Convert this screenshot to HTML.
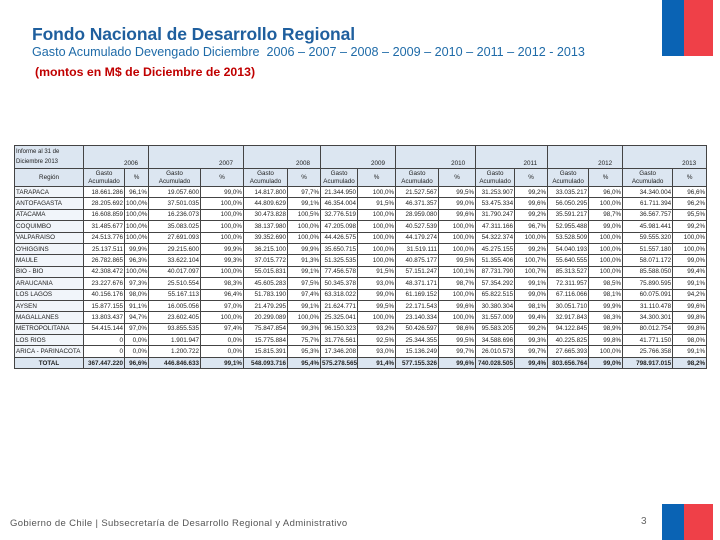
<!DOCTYPE html>
<html><head><meta charset="utf-8">
<style>
body{margin:0;width:720px;height:540px;background:#fff;position:relative;overflow:hidden;font-family:"Liberation Sans",sans-serif;}
.bar{position:absolute}
#title{position:absolute;left:32px;top:24px;font-size:17.5px;font-weight:bold;color:#1f5f9e;letter-spacing:-0.1px}
#sub{position:absolute;left:32px;top:45px;font-size:12.6px;color:#1f6ba8}
#sub2{position:absolute;left:35px;top:65px;font-size:12.3px;font-weight:bold;color:#c00000}
#tbl{position:absolute;left:14px;top:145px;width:692px;border-collapse:collapse;table-layout:fixed;font-family:"Liberation Sans Narrow","Liberation Sans",sans-serif;font-size:6.3px;color:#222}
#tbl td{border:1px solid #444;padding:0 1px;height:10.4px;line-height:9px;white-space:nowrap;overflow:hidden;text-align:right}
#tbl td.r{text-align:left;background:#f1f5fa}
#tbl .h td{background:#dce6f1;text-align:center;font-size:6.3px}
#tbl tr.tot td{background:#dce6f1;font-weight:bold}
#foot{position:absolute;left:10px;top:518px;font-size:9.5px;color:#555;letter-spacing:0.35px}
#pg{position:absolute;left:641px;top:516px;font-size:10px;color:#666}
</style></head><body>
<div class="bar" style="left:662px;top:0;width:22px;height:56px;background:#0a63b4"></div>
<div class="bar" style="left:684px;top:0;width:29px;height:56px;background:#ef4048"></div>
<div class="bar" style="left:662px;top:504px;width:22px;height:36px;background:#0a63b4"></div>
<div class="bar" style="left:684px;top:504px;width:29px;height:36px;background:#ef4048"></div>
<div id="title">Fondo Nacional de Desarrollo Regional</div>
<div id="sub">Gasto Acumulado Devengado Diciembre&nbsp; 2006 – 2007 – 2008 – 2009 – 2010 – 2011 – 2012 - 2013</div>
<div id="sub2">(montos en M$ de Diciembre de 2013)</div>
<table id="tbl">
<colgroup><col style="width:69px"><col style="width:41px"><col style="width:24px"><col style="width:52px"><col style="width:43px"><col style="width:44px"><col style="width:33px"><col style="width:37px"><col style="width:38px"><col style="width:43px"><col style="width:37px"><col style="width:39px"><col style="width:33px"><col style="width:41px"><col style="width:34px"><col style="width:50px"><col style="width:34px"></colgroup>
<tbody id="tb"></tbody></table>
<div id="foot">Gobierno de Chile | Subsecretaría de Desarrollo Regional y Administrativo</div>
<div id="pg">3</div>
<script>
const years=["2006","2007","2008","2009","2010","2011","2012","2013"];
const regions=["TARAPACA","ANTOFAGASTA","ATACAMA","COQUIMBO","VALPARAISO","O'HIGGINS","MAULE","BIO - BIO","ARAUCANIA","LOS LAGOS","AYSEN","MAGALLANES","METROPOLITANA","LOS RIOS","ARICA - PARINACOTA","TOTAL"];
const rows=[
["18.661.286","96,1%","19.057.600","99,0%","14.817.800","97,7%","21.344.950","100,0%","21.527.567","99,5%","31.253.907","99,2%","33.035.217","96,0%","34.340.004","96,6%"],
["28.205.692","100,0%","37.501.035","100,0%","44.809.629","99,1%","46.354.004","91,5%","46.371.357","99,0%","53.475.334","99,6%","56.050.295","100,0%","61.711.394","96,2%"],
["16.608.859","100,0%","16.236.073","100,0%","30.473.828","100,5%","32.776.519","100,0%","28.959.080","99,6%","31.790.247","99,2%","35.591.217","98,7%","36.567.757","95,5%"],
["31.485.677","100,0%","35.083.025","100,0%","38.137.980","100,0%","47.205.098","100,0%","40.527.539","100,0%","47.311.166","96,7%","52.955.488","99,0%","45.981.441","99,2%"],
["24.513.776","100,0%","27.691.093","100,0%","39.352.690","100,0%","44.426.575","100,0%","44.179.274","100,0%","54.322.374","100,0%","53.528.509","100,0%","59.555.320","100,0%"],
["25.137.511","99,9%","29.215.600","99,9%","36.215.100","99,9%","35.650.715","100,0%","31.519.111","100,0%","45.275.155","99,2%","54.040.193","100,0%","51.557.180","100,0%"],
["26.782.865","96,3%","33.622.104","99,3%","37.015.772","91,3%","51.325.535","100,0%","40.875.177","99,5%","51.355.406","100,7%","55.640.555","100,0%","58.071.172","99,0%"],
["42.308.472","100,0%","40.017.097","100,0%","55.015.831","99,1%","77.456.578","91,5%","57.151.247","100,1%","87.731.790","100,7%","85.313.527","100,0%","85.588.050","99,4%"],
["23.227.676","97,3%","25.510.554","98,3%","45.605.283","97,5%","50.345.378","93,0%","48.371.171","98,7%","57.354.292","99,1%","72.311.957","98,5%","75.890.595","99,1%"],
["40.156.176","98,0%","55.167.113","96,4%","51.783.190","97,4%","63.318.022","99,0%","61.169.152","100,0%","65.822.515","99,0%","67.116.066","98,1%","60.075.091","94,2%"],
["15.877.155","91,1%","16.005.056","97,0%","21.479.295","99,1%","21.624.771","99,5%","22.171.543","99,6%","30.380.304","98,1%","30.051.710","99,9%","31.110.478","99,6%"],
["13.803.437","94,7%","23.602.405","100,0%","20.299.089","100,0%","25.325.041","100,0%","23.140.334","100,0%","31.557.009","99,4%","32.917.843","98,3%","34.300.301","99,8%"],
["54.415.144","97,0%","93.855.535","97,4%","75.847.854","99,3%","96.150.323","93,2%","50.426.597","98,6%","95.583.205","99,2%","94.122.845","98,9%","80.012.754","99,8%"],
["0","0,0%","1.901.947","0,0%","15.775.884","75,7%","31.776.561","92,5%","25.344.355","99,5%","34.588.696","99,3%","40.225.825","99,8%","41.771.150","98,0%"],
["0","0,0%","1.200.722","0,0%","15.815.391","95,3%","17.346.208","93,0%","15.136.249","99,7%","26.010.573","99,7%","27.665.393","100,0%","25.766.358","99,1%"],
["367.447.220","96,6%","446.846.633","99,1%","548.093.716","95,4%","575.278.565","91,4%","577.155.326","99,6%","740.028.505","99,4%","803.656.764","99,0%","798.917.015","98,2%"]];
const tb=document.getElementById('tb');
let h='<tr class="h"><td style="text-align:left;height:22px;line-height:10px;font-size:6px">Informe al 31 de<br>Diciembre 2013</td>';
years.forEach(y=>{h+='<td colspan="2" style="text-align:right;vertical-align:bottom;padding-right:10px">'+y+'</td>';});
h+='</tr><tr class="h"><td style="height:17px">Región</td>';
years.forEach(()=>{h+='<td style="line-height:8px">Gasto<br>Acumulado</td><td>%</td>';});
h+='</tr>';
tb.innerHTML=h;
regions.forEach((r,i)=>{
  const tr=document.createElement('tr');
  
  
  if(r==='TOTAL')tr.className='tot';
  let s='<td class="r"'+(r==='TOTAL'?' style="text-align:center"':'')+'>'+r+'</td>';
  rows[i].forEach(v=>{s+='<td>'+v+'</td>';});
  tr.innerHTML=s;
  tb.appendChild(tr);
});
</script>
</body></html>
